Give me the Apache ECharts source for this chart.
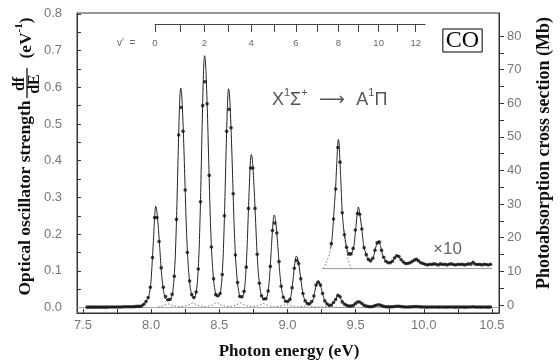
<!DOCTYPE html>
<html><head><meta charset="utf-8">
<script src="https://cdn.jsdelivr.net/npm/echarts@6/dist/echarts.min.js"></script>
<style>html,body{margin:0;padding:0;background:#fff}#c{width:560px;height:363px}</style>
</head><body><div id="c"></div>
<script>
// ---------- data ----------
// fitted curve: [photon energy (eV), df/dE (eV^-1)]
const fitCurve = [
[7.53,0.001],[7.70,0.0012],[7.85,0.002],[7.90,0.0025],[7.93,0.004],[7.95,0.010],[7.965,0.018],[7.984,0.032],[7.997,0.063],[8.008,0.125],[8.016,0.178],[8.024,0.235],[8.029,0.265],[8.033,0.276],[8.038,0.272],[8.043,0.259],[8.053,0.218],[8.063,0.163],[8.073,0.108],[8.083,0.066],[8.093,0.041],[8.103,0.025],[8.125,0.019],
[8.147,0.024],[8.157,0.039],[8.167,0.072],[8.177,0.138],[8.187,0.251],[8.197,0.401],[8.207,0.538],[8.212,0.583],[8.217,0.598],[8.222,0.589],[8.227,0.562],[8.237,0.472],[8.247,0.353],[8.257,0.233],[8.267,0.144],[8.277,0.090],[8.287,0.054],[8.306,0.027],
[8.322,0.029],[8.332,0.045],[8.342,0.082],[8.352,0.158],[8.362,0.288],[8.372,0.460],[8.382,0.617],[8.387,0.669],[8.392,0.686],[8.397,0.676],[8.402,0.645],[8.412,0.542],[8.422,0.405],[8.432,0.268],[8.442,0.165],[8.452,0.103],[8.462,0.062],[8.480,0.030],
[8.498,0.031],[8.508,0.039],[8.518,0.072],[8.528,0.137],[8.538,0.250],[8.548,0.399],[8.558,0.536],[8.563,0.581],[8.568,0.596],[8.573,0.587],[8.578,0.560],[8.588,0.471],[8.598,0.352],[8.608,0.232],[8.618,0.143],[8.628,0.089],[8.638,0.054],[8.654,0.028],
[8.675,0.032],[8.685,0.050],[8.695,0.096],[8.705,0.175],[8.715,0.279],[8.725,0.375],[8.730,0.407],[8.735,0.417],[8.740,0.411],[8.745,0.392],[8.755,0.329],[8.765,0.246],[8.775,0.163],[8.785,0.100],[8.795,0.063],[8.805,0.038],[8.822,0.023],
[8.843,0.024],[8.853,0.034],[8.863,0.058],[8.873,0.106],[8.883,0.169],[8.893,0.227],[8.898,0.246],[8.903,0.252],[8.908,0.248],[8.913,0.237],[8.923,0.199],[8.933,0.149],[8.943,0.098],[8.953,0.060],[8.963,0.038],[8.973,0.025],[8.994,0.016],
[9.016,0.020],[9.026,0.032],[9.036,0.059],[9.046,0.094],[9.056,0.126],[9.061,0.137],[9.066,0.140],[9.071,0.138],[9.076,0.132],[9.086,0.111],[9.096,0.083],[9.106,0.055],[9.116,0.034],[9.126,0.021],[9.136,0.014],[9.150,0.010],
[9.174,0.011],[9.184,0.017],[9.194,0.031],[9.204,0.050],[9.214,0.067],[9.219,0.072],[9.224,0.074],[9.229,0.073],[9.234,0.070],[9.244,0.058],[9.254,0.044],[9.264,0.029],[9.274,0.018],[9.284,0.012],[9.294,0.008],[9.302,0.0055],
[9.317,0.0056],[9.327,0.0080],[9.336,0.0125],[9.345,0.0175],[9.354,0.0225],[9.362,0.0290],[9.368,0.0335],[9.373,0.0352],[9.378,0.0346],[9.384,0.0300],[9.390,0.0254],[9.396,0.0200],[9.402,0.0152],[9.412,0.0110],[9.422,0.0084],[9.432,0.0062],[9.442,0.0047],[9.458,0.0036],
[9.475,0.0045],[9.488,0.0063],[9.503,0.0117],[9.512,0.0150],[9.520,0.0168],[9.526,0.0162],[9.532,0.0145],[9.545,0.0110],[9.557,0.0068],[9.567,0.0050],[9.576,0.0040],[9.590,0.0027],[9.607,0.0021],
[9.622,0.0025],[9.635,0.0038],[9.650,0.0061],[9.660,0.0072],[9.667,0.0076],[9.675,0.0071],[9.684,0.0060],[9.699,0.0036],[9.711,0.0026],[9.723,0.0020],[9.745,0.0016],
[9.760,0.0017],[9.772,0.0021],[9.785,0.0028],[9.796,0.0034],[9.806,0.0036],[9.816,0.0033],[9.827,0.0027],[9.838,0.0022],[9.852,0.0017],[9.870,0.0014],
[9.895,0.0015],[9.911,0.0018],[9.925,0.0022],[9.938,0.0025],[9.948,0.0025],[9.960,0.0021],[9.975,0.0017],[9.992,0.0014],
[10.03,0.0011],[10.08,0.0012],[10.13,0.0011],[10.18,0.0012],[10.23,0.0011],[10.28,0.0012],[10.33,0.0012],[10.362,0.0017],[10.39,0.0011],[10.44,0.0012],[10.50,0.0011]
];
// measured points: [photon energy (eV), df/dE (eV^-1)]
const measured = [
[7.530,0.001],[7.546,0.001],[7.562,0.001],[7.578,0.001],[7.594,0.001],[7.610,0.001],[7.626,0.001],[7.642,0.001],[7.658,0.001],[7.674,0.001],[7.690,0.0015],[7.706,0.0015],[7.722,0.0015],[7.738,0.0015],[7.754,0.0015],[7.770,0.0015],[7.786,0.0015],[7.802,0.002],[7.818,0.002],[7.834,0.002],[7.850,0.002],[7.866,0.002],[7.882,0.0025],[7.898,0.003],[7.914,0.003],[7.930,0.004],[7.946,0.009],[7.962,0.016],[7.978,0.027],[7.994,0.055],
[8.010,0.136],[8.026,0.245],[8.042,0.245],[8.058,0.180],[8.074,0.108],[8.090,0.055],[8.106,0.030],[8.122,0.021],[8.138,0.022],[8.154,0.036],[8.170,0.085],[8.186,0.240],[8.202,0.470],[8.218,0.545],[8.234,0.480],[8.250,0.320],[8.266,0.150],[8.282,0.072],[8.298,0.035],[8.314,0.027],
[8.330,0.042],[8.346,0.105],[8.362,0.288],[8.378,0.550],[8.394,0.615],[8.410,0.555],[8.426,0.360],[8.442,0.165],[8.458,0.078],[8.474,0.035],[8.490,0.032],[8.506,0.038],[8.522,0.090],[8.538,0.250],[8.554,0.480],[8.570,0.540],[8.586,0.490],[8.602,0.310],[8.618,0.143],[8.634,0.068],
[8.650,0.030],[8.666,0.029],[8.682,0.044],[8.698,0.110],[8.714,0.270],[8.730,0.380],[8.746,0.380],[8.762,0.270],[8.778,0.145],[8.794,0.066],[8.810,0.032],[8.826,0.023],[8.842,0.024],[8.858,0.045],[8.874,0.112],[8.890,0.210],[8.906,0.230],[8.922,0.203],[8.938,0.125],[8.954,0.058],
[8.970,0.028],[8.986,0.017],[9.002,0.016],[9.018,0.022],[9.034,0.054],[9.050,0.107],[9.066,0.128],[9.082,0.120],[9.098,0.078],[9.114,0.038],[9.130,0.018],[9.146,0.011],[9.162,0.010],[9.178,0.016],[9.194,0.031],[9.210,0.061],[9.226,0.068],[9.242,0.061],[9.258,0.038],[9.274,0.018],
[9.290,0.010],[9.306,0.0058],[9.322,0.0068],[9.338,0.0135],[9.354,0.0217],[9.370,0.0330],[9.386,0.0290],[9.402,0.0152],[9.418,0.0092],[9.434,0.0058],[9.450,0.0040],[9.466,0.0040],[9.482,0.0055],[9.498,0.0105],[9.514,0.0150],[9.530,0.0148],[9.546,0.0108],[9.562,0.0057],[9.578,0.0038],[9.594,0.0025],
[9.610,0.0021],[9.626,0.0028],[9.642,0.0050],[9.658,0.0070],[9.674,0.0072],[9.690,0.0050],[9.706,0.0031],[9.722,0.0020],[9.738,0.0016],[9.754,0.0016],[9.770,0.0020],[9.786,0.0029],[9.802,0.0035],[9.818,0.0033],[9.834,0.0024],[9.850,0.0018],[9.866,0.0014],[9.882,0.0014],[9.898,0.0016],[9.914,0.0019],
[9.930,0.0023],[9.946,0.0025],[9.962,0.0021],[9.978,0.0016],[9.994,0.0014],[10.010,0.0012],[10.026,0.0010],[10.042,0.0012],[10.058,0.0011],[10.074,0.0013],[10.090,0.0012],[10.106,0.0010],[10.122,0.0013],[10.138,0.0011],[10.154,0.0012],[10.170,0.0010],[10.186,0.0012],[10.202,0.0013],[10.218,0.0011],[10.234,0.0010],
[10.250,0.0012],[10.266,0.0011],[10.282,0.0012],[10.298,0.0010],[10.314,0.0011],[10.330,0.0013],[10.346,0.0012],[10.362,0.0017],[10.378,0.0012],[10.394,0.0011],[10.410,0.0012],[10.426,0.0010],[10.442,0.0012],[10.458,0.0011],[10.474,0.0010],[10.490,0.0012]
];
// individual band components near the baseline (dotted)
const componentTails = [
[8.05,0.001],[8.09,0.005],[8.125,0.010],[8.16,0.005],[8.217,0.002],[8.27,0.006],[8.306,0.013],[8.34,0.006],[8.392,0.002],[8.445,0.006],[8.48,0.014],[8.515,0.006],[8.568,0.002],[8.62,0.006],[8.654,0.013],[8.69,0.006],[8.735,0.002],[8.785,0.005],[8.822,0.011],[8.86,0.005],[8.903,0.0015],[8.955,0.004],[8.994,0.008],[9.03,0.004],[9.066,0.001],[9.115,0.003],[9.15,0.005],[9.185,0.0025],[9.224,0.001],[9.27,0.002],[9.302,0.003],[9.34,0.001],[9.40,0.0003],[9.50,0]
];
// v'=8 component in the x10 inset (dotted parts)
const v8CompLeft = [[9.259,0],[9.275,0.0008],[9.29,0.0020],[9.305,0.0036],[9.317,0.0056]];
const v8CompRight = [[9.412,0.0105],[9.425,0.0068],[9.438,0.0038],[9.45,0.0018],[9.462,0.0006],[9.471,0]];
// inset: x10 magnification, its zero line drawn at insetBase (df/dE units)
const insetStartE = 9.317;
const insetFactor = 10;
const insetBase = 0.106;
const insetZeroRange = [9.259, 10.50];
// vibrational levels v' of A1Pi (energy, eV)
const vPrimeE = [8.028,8.217,8.390,8.569,8.733,8.901,9.061,9.215,9.373,9.520,9.669,9.806,9.941];
const vPrimeScaleEnd = 10.01;
// axis tick labels
const xLabels = [7.5,8.0,8.5,9.0,9.5,10.0,10.5];
const xTicks = [7.5,7.75,8.0,8.25,8.5,8.75,9.0,9.25,9.5,9.75,10.0,10.25,10.5];
const yLeftLabels = [0,0.1,0.2,0.3,0.4,0.5,0.6,0.7,0.8];
const yLeftTicks = [0,0.05,0.1,0.15,0.2,0.25,0.3,0.35,0.4,0.45,0.5,0.55,0.6,0.65,0.7,0.75,0.8];
const yRightLabels = [0,10,20,30,40,50,60,70,80];
const yRightTicks = [0,5,10,15,20,25,30,35,40,45,50,55,60,65,70,75,80];

// ---------- layout ----------
const G = {left:77, top:13, width:422, height:300};
const X_MIN = 7.456, X_MAX = 10.552;
const YL_MIN = -0.015, YL_MAX = 0.8025;
const YR_MIN = -2.38, YR_MAX = 86.84;
const px = e => G.left + (e - X_MIN) / (X_MAX - X_MIN) * G.width;

const toInset = arr => arr.filter(p => p[0] >= insetStartE).map(p => [p[0], insetBase + insetFactor * p[1]]);
const toInsetAll = arr => arr.map(p => [p[0], insetBase + insetFactor * p[1]]);

const tickFont = '"Liberation Sans", Arial, sans-serif';
const serif = '"Liberation Serif", "Times New Roman", serif';
const axisColor = '#333';
const labelColor = '#777';

const chart = echarts.init(document.getElementById('c'), null, {renderer:'canvas'});
const vEven = vPrimeE.filter((e,i) => i % 2 === 0);
const vIndex = v => { let b=0, d=1e9; vPrimeE.forEach((e,i)=>{ if (Math.abs(e-v)<d){d=Math.abs(e-v); b=i;} }); return String(b); };
const C = {align:'center', verticalAlign:'middle', textAlign:'center', textVerticalAlign:'middle'};

chart.setOption({
  animation:false,
  grid:[
    {left:G.left, top:G.top, width:G.width, height:G.height, show:true, borderColor:axisColor, borderWidth:1, backgroundColor:'transparent'},
    {left:px(vPrimeE[0]), top:24, width:px(vPrimeScaleEnd)-px(vPrimeE[0]), height:20, show:false}
  ],
  xAxis:[
    {type:'value', gridIndex:0, min:X_MIN, max:X_MAX, position:'bottom',
     axisLine:{show:true, onZero:false, lineStyle:{color:axisColor, width:1}},
     axisTick:{show:true, inside:true, length:4, customValues:xTicks, lineStyle:{color:axisColor}},
     axisLabel:{customValues:xLabels, formatter:v=>v.toFixed(1), color:labelColor, fontSize:13, fontFamily:tickFont, margin:6},
     splitLine:{show:false}},
    {type:'value', gridIndex:1, min:vPrimeE[0], max:vPrimeScaleEnd, position:'top',
     axisLine:{show:true, onZero:false, lineStyle:{color:'#444', width:1}},
     axisTick:{show:true, inside:true, length:8, customValues:vPrimeE, lineStyle:{color:'#444'}},
     axisLabel:{inside:true, customValues:vEven, formatter:vIndex, color:'#666', fontSize:9.5, fontFamily:tickFont, margin:14},
     splitLine:{show:false}}
  ],
  yAxis:[
    {type:'value', gridIndex:0, min:YL_MIN, max:YL_MAX, position:'left',
     axisLine:{show:true, onZero:false, lineStyle:{color:axisColor, width:1}},
     axisTick:{show:true, inside:true, length:4, customValues:yLeftTicks, lineStyle:{color:axisColor}},
     axisLabel:{customValues:yLeftLabels, formatter:v=>v.toFixed(1), color:labelColor, fontSize:13, fontFamily:tickFont, margin:15},
     splitLine:{show:false}},
    {type:'value', gridIndex:0, min:YR_MIN, max:YR_MAX, position:'right',
     axisLine:{show:true, onZero:false, lineStyle:{color:axisColor, width:1}},
     axisTick:{show:true, inside:false, length:5, customValues:yRightTicks, lineStyle:{color:axisColor}},
     axisLabel:{customValues:yRightLabels, formatter:v=>String(v), color:labelColor, fontSize:13, fontFamily:tickFont, margin:8},
     splitLine:{show:false}},
    {type:'value', gridIndex:1, show:false, min:0, max:1}
  ],
  series:[
    {type:'line', name:'zero', xAxisIndex:0, yAxisIndex:0, data:[[X_MIN,0],[X_MAX,0]], showSymbol:false, silent:true,
     lineStyle:{color:'#aaa', width:1}, z:1},
    {type:'line', name:'components', xAxisIndex:0, yAxisIndex:0, data:componentTails, showSymbol:false,
     lineStyle:{color:'#777', width:1, type:[1.5,2]}, z:2},
    {type:'line', name:'fit', xAxisIndex:0, yAxisIndex:0, data:fitCurve, showSymbol:false, smooth:0.2,
     lineStyle:{color:'#222', width:1}, z:3},
    {type:'scatter', name:'measured', xAxisIndex:0, yAxisIndex:0, data:measured, symbol:'circle', symbolSize:3.6,
     itemStyle:{color:'#111'}, z:4},
    // x10 inset
    {type:'line', name:'insetZero', xAxisIndex:0, yAxisIndex:0, data:toInsetAll(insetZeroRange.map(e=>[e,0])), showSymbol:false,
     lineStyle:{color:'#999', width:1}, z:1},
    {type:'line', name:'insetCompL', xAxisIndex:0, yAxisIndex:0, data:toInsetAll(v8CompLeft), showSymbol:false,
     lineStyle:{color:'#777', width:1, type:[1.5,2]}, z:2},
    {type:'line', name:'insetCompR', xAxisIndex:0, yAxisIndex:0, data:toInsetAll(v8CompRight), showSymbol:false,
     lineStyle:{color:'#777', width:1, type:[1.5,2]}, z:2},
    {type:'line', name:'insetFit', xAxisIndex:0, yAxisIndex:0, data:toInset(fitCurve), showSymbol:false, smooth:0.2,
     lineStyle:{color:'#222', width:1}, z:3},
    {type:'scatter', name:'insetMeasured', xAxisIndex:0, yAxisIndex:0, data:toInset(measured), symbol:'circle', symbolSize:3.6,
     itemStyle:{color:'#111'}, z:4}
  ],
  graphic:[
    {type:'text', x:25, y:198, rotation:Math.PI/2,
     style:Object.assign({text:'Optical oscillator strength', font:'bold 17.5px '+serif, fill:'#111'}, C)},
    {type:'text', x:19.5, y:84, rotation:Math.PI/2,
     style:Object.assign({text:'df', font:'bold 16px '+serif, fill:'#111'}, C)},
    {type:'line', shape:{x1:27, y1:68, x2:27, y2:98}, style:{stroke:'#111', lineWidth:1.3}},
    {type:'text', x:35, y:84, rotation:Math.PI/2,
     style:Object.assign({text:'dE', font:'bold 16px '+serif, fill:'#111'}, C)},
    {type:'text', x:26, y:38, rotation:Math.PI/2,
     style:Object.assign({text:'{n|(eV}{s|-1}{n|)}',
       rich:{n:{font:'bold 17.5px '+serif, fill:'#111', lineHeight:24}, s:{font:'bold 11px '+serif, fill:'#111', verticalAlign:'top', lineHeight:12}}}, C)},
    {type:'text', x:544, y:153, rotation:Math.PI/2,
     style:Object.assign({text:'Photoabsorption cross section (Mb)', font:'bold 18px '+serif, fill:'#111'}, C)},
    {type:'text', x:289, y:352,
     style:Object.assign({text:'Photon energy (eV)', font:'bold 17px '+serif, fill:'#111'}, C)},
    {type:'text', x:462.5, y:40.5,
     style:Object.assign({text:'CO', font:'24px '+serif, fill:'#000', padding:[0,3,0,3], lineHeight:23, borderColor:'#000', borderWidth:1}, C)},
    {type:'text', x:272, y:100,
     style:{text:'{b|X}{s|1}{b|Σ}{s|+}{a|  ⟶  }{b|A}{s|1}{b|Π}', align:'left', verticalAlign:'middle', textAlign:'left', textVerticalAlign:'middle',
       rich:{b:{font:'18px '+tickFont, fill:'#555', lineHeight:26}, s:{font:'11px '+tickFont, fill:'#555', verticalAlign:'top', lineHeight:12},
             a:{font:'18px "DejaVu Sans", sans-serif', fill:'#555', lineHeight:26}}}},
    {type:'text', x:433, y:249,
     style:{text:'×10', font:'17px '+tickFont, fill:'#666', align:'left', verticalAlign:'middle', textAlign:'left', textVerticalAlign:'middle'}},
    {type:'text', x:117, y:43,
     style:{text:"v'  =", font:'10px '+tickFont, fill:'#666', align:'left', verticalAlign:'middle', textAlign:'left', textVerticalAlign:'middle'}}
  ]
});
</script>
</body></html>
